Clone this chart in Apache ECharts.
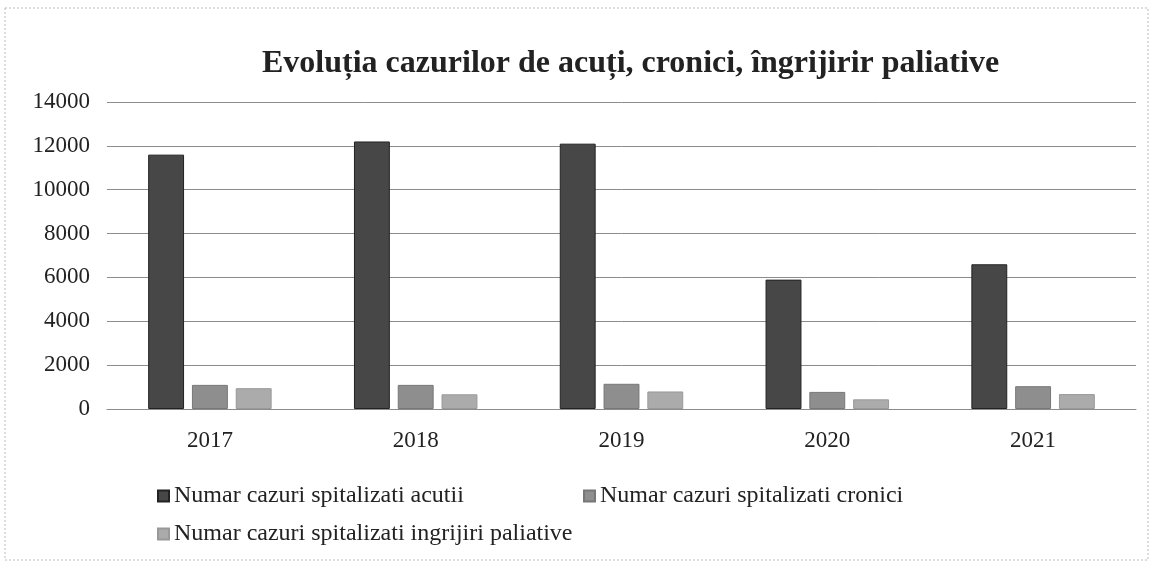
<!DOCTYPE html>
<html>
<head>
<meta charset="utf-8">
<script src="https://cdn.jsdelivr.net/npm/echarts@6/dist/echarts.min.js"></script>
<style>
  html, body { margin: 0; padding: 0; background: #fff; }
  #chart { width: 1156px; height: 566px; }
</style>
</head>
<body>
<div id="chart"></div>
<script>
// date
var ani = ['2017', '2018', '2019', '2020', '2021'];
var acuti = [11600, 12200, 12100, 5900, 6600];
var cronici = [1100, 1100, 1150, 780, 1040];
var paliative = [950, 670, 800, 440, 680];
var numeSerii = [
    'Numar cazuri spitalizati acutii',
    'Numar cazuri spitalizati cronici',
    'Numar cazuri spitalizati ingrijiri paliative'
];

var serif = '"Liberation Serif", "DejaVu Serif", serif';
var legendText = {fontFamily: serif, fontSize: 24, color: '#222'};

var myChart = echarts.init(document.getElementById('chart'));
var option = {
    backgroundColor: '#fff',
    color: ['#474747', '#8e8e8e', '#ababab'],
    title: {
        text: 'Evoluția cazurilor de acuți, cronici, îngrijirir paliative',
        left: 'center',
        left: 257,
        top: 43,
        textStyle: {
            fontFamily: serif,
            fontWeight: 'bold',
            fontSize: 32,
            color: '#222'
        }
    },
    legend: [
        {
            data: [numeSerii[0]],
            left: 152, top: 479,
            itemWidth: 11, itemHeight: 11, itemGap: 4, icon: 'rect',
            textStyle: legendText
        },
        {
            data: [numeSerii[1]],
            left: 578, top: 479,
            itemWidth: 11, itemHeight: 11, icon: 'rect',
            textStyle: legendText
        },
        {
            data: [numeSerii[2]],
            left: 152, top: 517,
            itemWidth: 11, itemHeight: 11, icon: 'rect',
            textStyle: legendText
        }
    ],
    grid: {
        left: 107,
        right: 20,
        top: 102,
        bottom: 157,
        containLabel: false
    },
    xAxis: {
        type: 'category',
        data: ani,
        axisTick: {show: false},
        axisLine: {lineStyle: {color: '#8c8c8c'}},
        axisLabel: {
            fontFamily: serif,
            fontSize: 23,
            color: '#222',
            margin: 20
        }
    },
    yAxis: {
        type: 'value',
        min: 0,
        max: 14000,
        interval: 2000,
        axisLine: {show: false},
        axisTick: {show: false},
        splitLine: {lineStyle: {color: '#8c8c8c'}},
        axisLabel: {
            fontFamily: serif,
            fontSize: 23,
            color: '#222',
            margin: 17,
            formatter: function (v) { return String(v); }
        }
    },
    graphic: [{
        type: 'rect',
        shape: {x: 5, y: 8, width: 1143, height: 552},
        style: {fill: 'none', stroke: '#bbb', lineWidth: 1, lineDash: [2, 2]},
        silent: true
    }],
    series: [
        {
            name: numeSerii[0],
            type: 'bar',
            barGap: '22%',
            barCategoryGap: '40%',
            itemStyle: {borderColor: '#222', borderWidth: 1},
            data: acuti
        },
        {
            name: numeSerii[1],
            type: 'bar',
            itemStyle: {borderColor: '#777', borderWidth: 1},
            data: cronici
        },
        {
            name: numeSerii[2],
            type: 'bar',
            itemStyle: {borderColor: '#999', borderWidth: 1},
            data: paliative
        }
    ]
};
myChart.setOption(option);
</script>
</body>
</html>
